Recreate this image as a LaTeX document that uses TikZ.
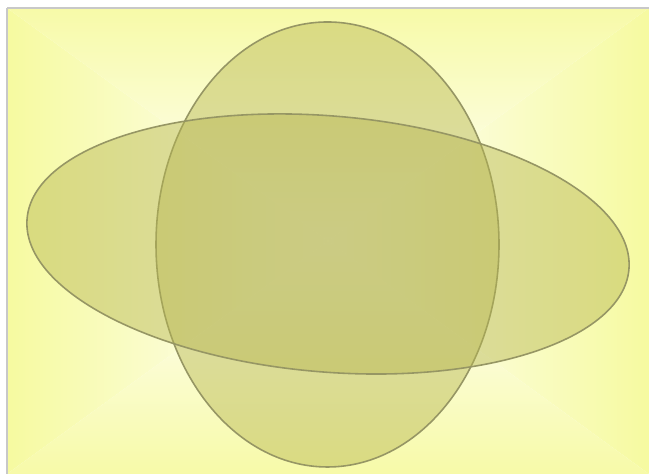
\documentclass[tikz,border=0pt]{standalone}
\begin{document}
\begin{tikzpicture}[x=0.01cm,y=0.01cm,
  blob/.style={draw={rgb,255:red,150;green,150;blue,100}, line width=0.45pt,
    fill={rgb,255:red,182;green,182;blue,80}, fill opacity=0.45}]
\definecolor{bgyel}{RGB}{246,250,160}
\definecolor{bgyeltb}{RGB}{247,250,168}
\useasboundingbox (0,0) rectangle (649,474);
% background frame coordinates (tikz y = 474 - image y)
\coordinate (bl) at (7,0);
\coordinate (br) at (649,0);
\coordinate (tl) at (7,466);
\coordinate (tr) at (649,466);
\coordinate (c) at (328,233);
\shade[left color=bgyel, right color=white] (tl) -- (bl) -- (c) -- cycle;
\shade[left color=white, right color=bgyel] (tr) -- (br) -- (c) -- cycle;
\shade[top color=bgyeltb, bottom color=white] (tl) -- (tr) -- (c) -- cycle;
\shade[top color=white, bottom color=bgyeltb] (bl) -- (br) -- (c) -- cycle;
\draw[draw={rgb,255:red,200;green,200;blue,200}, line width=0.8pt] (tl) -- (tr) (bl) -- (tl);
% ellipses
\path[blob] (327.5,229.5) ellipse [x radius=171.5, y radius=222.5];
\path[blob, rotate around={-4.8:(328,230)}] (328,230) ellipse [x radius=302, y radius=128];
\end{tikzpicture}
\end{document}
